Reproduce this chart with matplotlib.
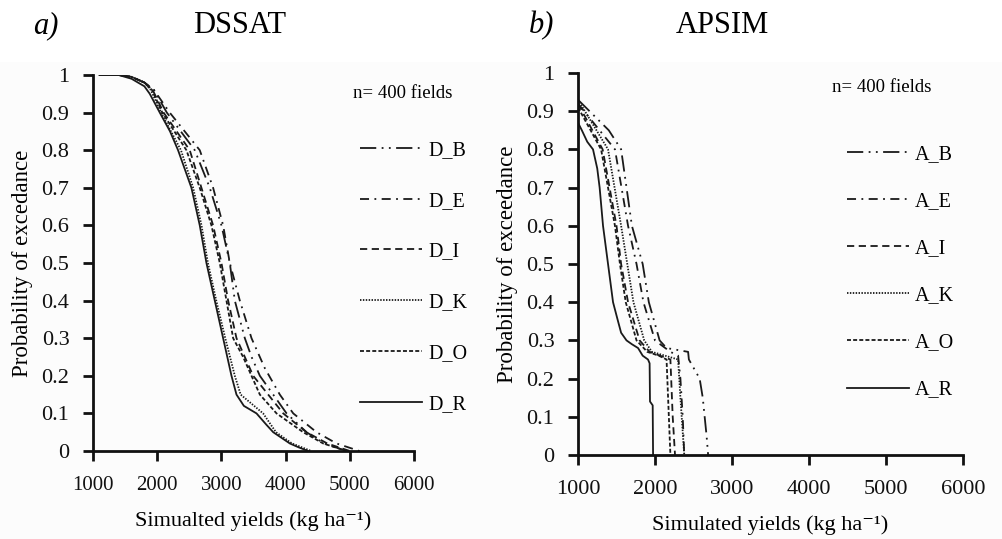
import matplotlib
matplotlib.use("Agg")
import matplotlib.pyplot as plt
from matplotlib.patches import Rectangle

plt.rcParams['font.family'] = ['Liberation Serif', 'DejaVu Serif']

# ---------------- data ----------------
dssat_labels = ["D_B", "D_E", "D_I", "D_K", "D_O", "D_R"]
apsim_labels = ["A_B", "A_E", "A_I", "A_K", "A_O", "A_R"]

d_b_yield = [1100, 1400, 1600, 1800, 1950, 2150, 2585, 2819, 3001, 3131, 3209, 3365, 3470, 3599, 3807, 4015, 4326, 4600, 4950]
d_b_prob  = [1.0, 1.0, 0.995, 0.98, 0.96, 0.90, 0.80, 0.70, 0.60, 0.50, 0.40, 0.30, 0.25, 0.20, 0.15, 0.10, 0.05, 0.02, 0.0]

d_e_yield = [1100, 1400, 1600, 1800, 1950, 2195, 2663, 2871, 3027, 3131, 3287, 3469, 3677, 3910, 4119, 4482, 4794, 5150]
d_e_prob  = [1.0, 1.0, 0.995, 0.98, 0.96, 0.90, 0.80, 0.70, 0.60, 0.50, 0.40, 0.30, 0.22, 0.15, 0.10, 0.05, 0.02, 0.0]

d_i_yield = [1100, 1400, 1600, 1800, 1930, 2100, 2507, 2689, 2871, 3001, 3105, 3235, 3495, 3963, 4326, 4650, 5000]
d_i_prob  = [1.0, 1.0, 0.995, 0.98, 0.96, 0.90, 0.80, 0.70, 0.60, 0.50, 0.40, 0.30, 0.20, 0.10, 0.05, 0.02, 0.0]

d_k_yield = [1100, 1400, 1600, 1800, 1900, 2060, 2370, 2560, 2690, 2790, 2920, 3060, 3209, 3300, 3650, 3850, 4100, 4400]
d_k_prob  = [1.0, 1.0, 0.995, 0.98, 0.96, 0.90, 0.80, 0.70, 0.60, 0.50, 0.40, 0.30, 0.20, 0.15, 0.10, 0.05, 0.02, 0.0]

d_o_yield = [1100, 1400, 1600, 1800, 1920, 2080, 2455, 2663, 2845, 2975, 3079, 3183, 3339, 3469, 3599, 3859, 4274, 4586, 4950]
d_o_prob  = [1.0, 1.0, 0.995, 0.98, 0.96, 0.90, 0.80, 0.70, 0.60, 0.50, 0.40, 0.30, 0.25, 0.20, 0.15, 0.10, 0.05, 0.02, 0.0]

d_r_yield = [1100, 1400, 1600, 1800, 1884, 2040, 2200, 2325, 2533, 2663, 2767, 2897, 3027, 3157, 3235, 3350, 3547, 3700, 3807, 4066, 4200, 4350]
d_r_prob  = [1.0, 1.0, 0.99, 0.97, 0.95, 0.90, 0.85, 0.80, 0.70, 0.60, 0.50, 0.40, 0.30, 0.20, 0.15, 0.12, 0.10, 0.07, 0.05, 0.02, 0.01, 0.0]

a_b_yield = [1000, 1400, 1560, 1700, 1840, 1920, 2060, 2150, 2430, 2440, 2580, 2620, 2670, 2690]
a_b_prob  = [0.93, 0.85, 0.80, 0.60, 0.50, 0.40, 0.30, 0.28, 0.27, 0.25, 0.20, 0.15, 0.05, 0.0]

a_e_yield = [1000, 1480, 1650, 1760, 1850, 2000, 2200, 2300, 2330, 2360, 2380]
a_e_prob  = [0.92, 0.80, 0.60, 0.50, 0.40, 0.30, 0.27, 0.26, 0.20, 0.10, 0.0]

a_i_yield = [1000, 1320, 1500, 1560, 1650, 1800, 1930, 2200, 2210, 2230, 2260]
a_i_prob  = [0.92, 0.80, 0.60, 0.50, 0.40, 0.30, 0.27, 0.25, 0.20, 0.10, 0.0]

a_k_yield = [1000, 1390, 1560, 1640, 1720, 1860, 1960, 2300, 2330, 2380]
a_k_prob  = [0.93, 0.80, 0.60, 0.50, 0.40, 0.30, 0.27, 0.25, 0.15, 0.0]

a_o_yield = [1000, 1300, 1480, 1545, 1620, 1760, 1900, 2050, 2150, 2160, 2180, 2200]
a_o_prob  = [0.91, 0.80, 0.60, 0.50, 0.40, 0.30, 0.27, 0.26, 0.25, 0.20, 0.10, 0.0]

a_r_yield = [1000, 1050, 1120, 1195, 1250, 1281, 1325, 1390, 1455, 1520, 1560, 1630, 1700, 1780, 1840, 1909, 1930, 1935, 1970, 1975]
a_r_prob  = [0.87, 0.85, 0.82, 0.80, 0.75, 0.70, 0.60, 0.50, 0.40, 0.35, 0.32, 0.30, 0.29, 0.28, 0.26, 0.25, 0.24, 0.14, 0.13, 0.0]

x_ticks = [1000, 2000, 3000, 4000, 5000, 6000]
y_ticks = [0, 0.1, 0.2, 0.3, 0.4, 0.5, 0.6, 0.7, 0.8, 0.9, 1.0]
y_ticklabels = ["0", "0.1", "0.2", "0.3", "0.4", "0.5", "0.6", "0.7", "0.8", "0.9", "1"]

# ---------------- styles ----------------
styles = [(0, (9, 3, 1, 3, 1, 3)),   # B dash-dot-dot
          (0, (5, 3, 1, 3)),         # E dash-dot
          (0, (4, 2.5)),             # I dashed
          (0, (0.8, 0.8)),           # K dotted
          (0, (2.2, 1.2)),           # O short dash
          '-']                       # R solid

W, H = 1002, 539
fig = plt.figure(figsize=(W / 100, H / 100), dpi=100)
fig.patch.set_facecolor('white')
fig.patches.append(Rectangle((0, 0), 1, 1 - 62 / H, transform=fig.transFigure,
                             facecolor='#fcfcfc', edgecolor='none', zorder=-10))

axL = fig.add_axes([93 / W, 1 - 451 / H, (414 - 93) / W, (451 - 75) / H])
axR = fig.add_axes([578 / W, 1 - 455 / H, (963 - 578) / W, (455 - 73) / H])

dssat = [(d_b_yield, d_b_prob), (d_e_yield, d_e_prob), (d_i_yield, d_i_prob),
         (d_k_yield, d_k_prob), (d_o_yield, d_o_prob), (d_r_yield, d_r_prob)]
apsim = [(a_b_yield, a_b_prob), (a_e_yield, a_e_prob), (a_i_yield, a_i_prob),
         (a_k_yield, a_k_prob), (a_o_yield, a_o_prob), (a_r_yield, a_r_prob)]

for ax, series, labels in [(axL, dssat, dssat_labels), (axR, apsim, apsim_labels)]:
    for (xs, ys), ls, lab in zip(series, styles, labels):
        ax.plot(xs, ys, color='#1a1a1a', lw=1.3, linestyle=ls, label=lab)
    ax.set_xlim(1000, 6000)
    ax.set_ylim(0, 1)
    ax.set_xticks(x_ticks)
    ax.set_yticks(y_ticks)
    ax.set_yticklabels(y_ticklabels)
    for s in ['top', 'right']:
        ax.spines[s].set_visible(False)
    for s in ['left', 'bottom']:
        ax.spines[s].set_linewidth(2.0)
        ax.spines[s].set_color('#111111')
    ax.tick_params(axis='both', direction='out', length=7, width=2.0,
                   colors='#111111')
    ax.tick_params(axis='y', labelsize=16, pad=10)
    ax.tick_params(axis='x', labelsize=16, pad=11)
    ax.set_facecolor('none')
    ax.set_ylabel("Probability of excedance" if ax is axL else "Probability of exceedance",
                  fontsize=16.5, labelpad=6)

axL.tick_params(axis='x', labelsize=15)
axL.set_xlabel("Simualted yields (kg ha⁻¹)", fontsize=16, labelpad=12)
axR.set_xlabel("Simulated yields (kg ha⁻¹)", fontsize=16, labelpad=12)

fs_leg = 14.5
axL.legend(loc='upper left', bbox_to_anchor=(360 / W, 1 - 141 / H),
           bbox_transform=fig.transFigure, frameon=False, fontsize=fs_leg,
           handlelength=3.08, handletextpad=0.3, labelspacing=1.57,
           borderpad=0, borderaxespad=0)
axR.legend(loc='upper left', bbox_to_anchor=(847 / W, 1 - 145 / H),
           bbox_transform=fig.transFigure, frameon=False, fontsize=fs_leg,
           handlelength=3.08, handletextpad=0.3, labelspacing=1.39,
           borderpad=0, borderaxespad=0)

fig.text(353 / W, 1 - 93 / H, "n= 400 fields", fontsize=13.5, va='center', ha='left')
fig.text(832 / W, 1 - 88 / H, "n= 400 fields", fontsize=13.5, va='center', ha='left')

fig.text(33 / W, 1 - 33 / H, "a)", fontsize=22, style='italic', va='baseline', ha='left')
fig.text(193 / W, 1 - 33 / H, "DSSAT", fontsize=22, va='baseline', ha='left')
fig.text(529 / W, 1 - 33 / H, "b)", fontsize=22, style='italic', va='baseline', ha='left')
fig.text(676 / W, 1 - 33 / H, "APSIM", fontsize=22, va='baseline', ha='left')

fig.savefig("out.png", dpi=100, facecolor='white')
